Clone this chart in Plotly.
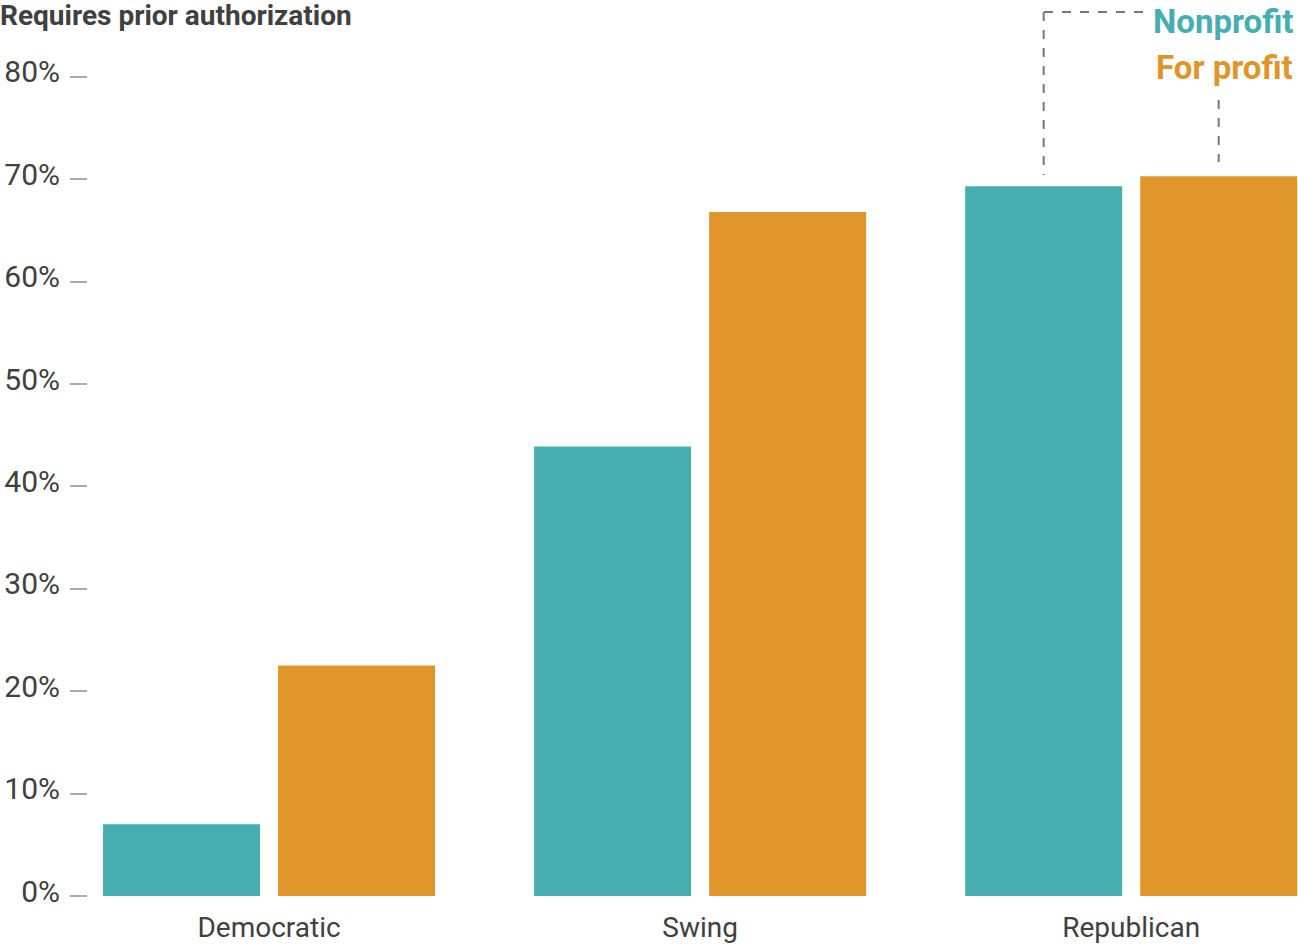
import plotly.graph_objects as go

categories = ["Democratic", "Swing", "Republican"]
nonprofit = [7.0, 43.9, 69.3]
for_profit = [22.5, 66.8, 70.3]
y_ticks = [0, 10, 20, 30, 40, 50, 60, 70, 80]
y_tick_labels = ["0%", "10%", "20%", "30%", "40%", "50%", "60%", "70%", "80%"]

TEAL = "#46AEB0"
ORANGE = "#DF9529"
TEXT = "#404040"
FONT = "Roboto, Liberation Sans, sans-serif"

fig = go.Figure()
fig.add_trace(go.Bar(x=categories, y=nonprofit, name="Nonprofit",
                     marker=dict(color=TEAL, line=dict(width=0)), hoverinfo="skip"))
fig.add_trace(go.Bar(x=categories, y=for_profit, name="For profit",
                     marker=dict(color=ORANGE, line=dict(width=0)), hoverinfo="skip"))

W, H = 1298, 946
ml, mr, mt, mb = 88, 0, 40, 50
plot_h = H - mt - mb
plot_w = W - ml - mr

def py(pix):
    return (H - mb - pix) / plot_h

def px(pix):
    return (pix - ml) / plot_w

bargap = 0.188
slot = (1 - bargap) / 2
np_x = 2 - slot / 2
fp_x = 2 + slot / 2

fig.update_layout(
    width=W, height=H,
    margin=dict(l=ml, r=mr, t=mt, b=mb, autoexpand=False),
    paper_bgcolor="white", plot_bgcolor="white",
    barmode="group", bargap=bargap, bargroupgap=0.103,
    showlegend=False,
    font=dict(family=FONT, color=TEXT, size=29),
    title=dict(text="<b>Requires prior authorization</b>", xref="container", x=0, xanchor="left",
               yref="container", y=1 - 15 / H, yanchor="middle", pad=dict(l=0, t=0, b=0, r=0),
               font=dict(family=FONT, size=28, color=TEXT)),
    xaxis=dict(range=[-0.42, 2.387], showline=False, showgrid=False, zeroline=False,
               ticks="", tickfont=dict(size=28, color=TEXT), fixedrange=True, automargin=False,
               ticklabelstandoff=12),
    yaxis=dict(range=[0, plot_h / 10.24], tickvals=y_ticks, ticktext=y_tick_labels,
               showgrid=False, zeroline=False, showline=False,
               ticks="outside", ticklen=17, tickwidth=2, tickcolor="#AAAAAA",
               ticklabelstandoff=4, ticklabelshift=-5, automargin=False, fixedrange=True,
               tickfont=dict(size=30, color=TEXT)),
    shapes=[
        dict(type="line", xref="x", yref="paper", x0=np_x, x1=np_x, y0=py(12), y1=py(175),
             line=dict(color="#777777", width=2, dash="dash")),
        dict(type="line", xref="paper", yref="paper", x0=px(1044), x1=px(1150),
             y0=py(12), y1=py(12),
             line=dict(color="#777777", width=2, dash="dash")),
        dict(type="line", xref="x", yref="paper", x0=fp_x, x1=fp_x, y0=py(100), y1=py(162),
             line=dict(color="#777777", width=2, dash="dash")),
    ],
    annotations=[
        dict(text="<b>Nonprofit</b>", xref="paper", yref="paper", x=px(1295), y=py(0),
             xanchor="right", yanchor="top", showarrow=False,
             font=dict(family=FONT, size=33, color=TEAL)),
        dict(text="<b>For profit</b>", xref="paper", yref="paper", x=px(1295), y=py(67),
             xanchor="right", yanchor="middle", showarrow=False,
             font=dict(family=FONT, size=33, color=ORANGE)),
    ],
)

fig.write_html(
    "out.html",
    config={"displayModeBar": False, "staticPlot": True},
    post_script="document.body.style.margin='0';document.body.style.overflow='hidden';",
)
